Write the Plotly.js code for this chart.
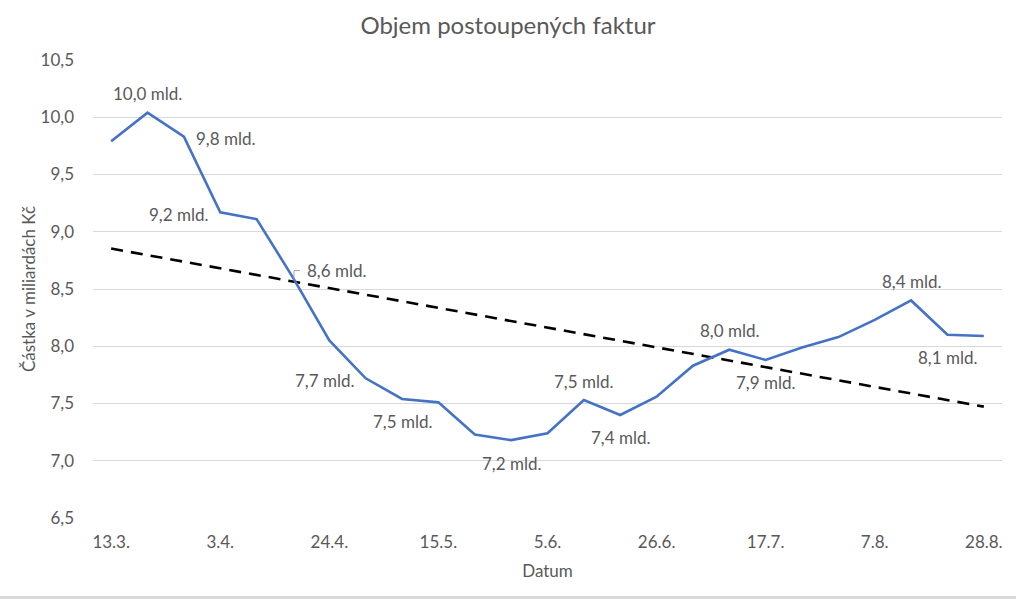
<!DOCTYPE html>
<html>
<head>
<meta charset="utf-8">
<script src="https://cdn.plot.ly/plotly-3.0.1.min.js"></script>
<style>
html,body{margin:0;padding:0;background:#fff;}
#wrap{position:relative;width:1016px;height:599px;}
#chart{width:1016px;height:599px;}
#bar{position:absolute;left:0;bottom:0;width:1016px;height:3px;background:#d9d9d9;}
</style>
</head>
<body>
<div id="wrap"><div id="chart"></div><div id="bar"></div></div>
<script>
// Weekly dates (categories)
const dates = ["13.3.","20.3.","27.3.","3.4.","10.4.","17.4.","24.4.","1.5.","8.5.","15.5.","22.5.","29.5.",
  "5.6.","12.6.","19.6.","26.6.","3.7.","10.7.","17.7.","24.7.","31.7.","7.8.","14.8.","21.8.","28.8."];
// Volume of assigned invoices (bn CZK)
const volume = [9.79,10.04,9.83,9.17,9.11,8.60,8.05,7.72,7.54,7.51,7.23,7.18,
  7.24,7.53,7.40,7.56,7.83,7.97,7.88,7.99,8.08,8.23,8.40,8.10,8.09];
// Tick labels shown on the x axis
const xTicks = ["13.3.","3.4.","24.4.","15.5.","5.6.","26.6.","17.7.","7.8.","28.8."];
// Which points carry a data label
const labelIdx = [1,2,3,5,7,8,11,13,14,17,18,22,23];
const labelPos = ["above","right","left","right","left","below","below","above","below","above","below","above","below"];

// Linear trend (least squares, like Excel's trendline)
const n = volume.length;
const xs = volume.map((_, i) => i);
const mx = xs.reduce((a,b)=>a+b,0)/n;
const my = volume.reduce((a,b)=>a+b,0)/n;
let sxy = 0, sxx = 0;
for (let i = 0; i < n; i++) { sxy += (i-mx)*(volume[i]-my); sxx += (i-mx)*(i-mx); }
const slope = sxy/sxx, icpt = my - slope*mx;
const trend = xs.map(i => icpt + slope*i);

const txtColor = '#595959';
const fontFam = 'Lato, "Open Sans", sans-serif';

const traces = [
  {x: dates, y: trend, type: 'scatter', mode: 'lines',
   line: {color: '#000000', width: 2.6, dash: '12px,8px'}, hoverinfo: 'skip'},
  {x: dates, y: volume, type: 'scatter', mode: 'lines',
   line: {color: '#4472C4', width: 2.6}, hoverinfo: 'skip'}
];

const annotations = labelIdx.map((i, k) => {
  const pos = labelPos[k];
  const a = {x: dates[i], y: volume[i], xref: 'x', yref: 'y', showarrow: false,
    text: volume[i].toFixed(1).replace('.', ',') + ' mld.',
    font: {family: fontFam, size: 17, color: txtColor}, xanchor: 'center', yanchor: 'middle'};
  if (pos === 'above') a.yshift = 19;
  if (pos === 'below') a.yshift = -23;
  if (pos === 'right') { a.xanchor = 'left'; a.xshift = 10; a.yshift = -2; }
  if (pos === 'left') { a.xanchor = 'right'; a.xshift = -10; a.yshift = -2; }
  return a;
});
// 8,6 label sits right of its leader line
annotations[3].xshift = 12;
annotations[3].yshift = 7;

const layout = {
  width: 1016, height: 599,
  margin: {l: 93, r: 14, t: 60, b: 81},
  paper_bgcolor: '#ffffff', plot_bgcolor: '#ffffff',
  separators: ', ',
  showlegend: false,
  font: {family: fontFam, color: txtColor, size: 17},
  title: {text: 'Objem postoupených faktur', x: 0.5, xanchor: 'center', y: 0.958, yanchor: 'middle',
          font: {family: fontFam, size: 24, color: txtColor}},
  xaxis: {type: 'category', range: [-0.5, 24.5], tickmode: 'array', tickvals: xTicks, ticktext: xTicks,
          showgrid: false, zeroline: false, showline: false, ticks: '', ticklabelstandoff: 12,
          tickfont: {size: 17, color: txtColor},
          title: {text: 'Datum', font: {size: 17, color: txtColor}, standoff: 14}},
  yaxis: {range: [6.5, 10.5], dtick: 0.5, tick0: 6.5, tickformat: '.1f',
          showgrid: true, gridcolor: '#d9d9d9', gridwidth: 1, zeroline: false, showline: false,
          ticks: '', ticklabelstandoff: 18, tickfont: {size: 17, color: txtColor},
          title: {text: 'Částka v miliardách Kč', font: {size: 17, color: txtColor}, standoff: 0}},
  annotations: annotations,
  shapes: [{type: 'path', xref: 'x', yref: 'y', xsizemode: 'pixel', ysizemode: 'pixel',
            xanchor: 5, yanchor: volume[5], path: 'M1,-2 L1,7 L7,7',
            line: {color: '#a6a6a6', width: 1}}]
};

Plotly.newPlot('chart', traces, layout, {staticPlot: true, displayModeBar: false});
</script>
</body>
</html>
